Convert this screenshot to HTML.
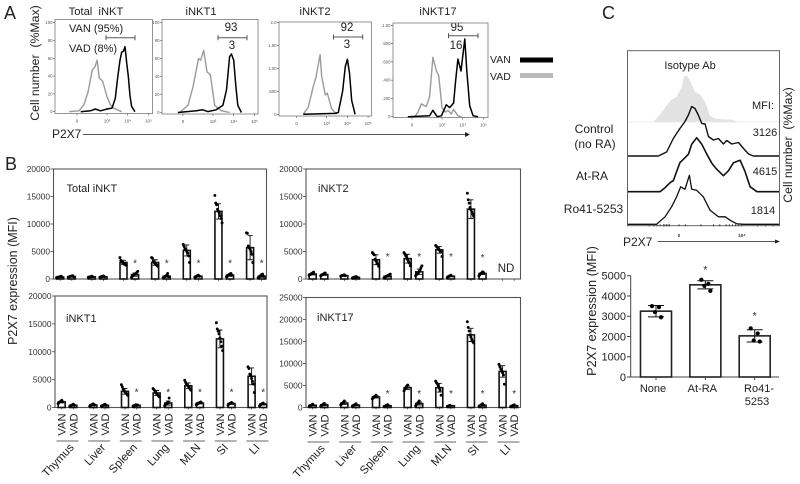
<!DOCTYPE html>
<html lang="en">
<head>
<meta charset="utf-8">
<title>P2X7 expression in iNKT subsets</title>
<style>
html,body{margin:0;padding:0;background:#fff;width:800px;height:484px;overflow:hidden}
svg{display:block;filter:blur(0.3px);font-family:"Liberation Sans",sans-serif}
text{white-space:pre}
</style>
</head>
<body>
<svg id="figure" xmlns="http://www.w3.org/2000/svg" width="800" height="484" viewBox="0 0 800 484">
  <text x="4" y="19" font-size="18" fill="#222">A</text>
  <text x="5" y="170" font-size="18" fill="#222">B</text>
  <text x="602" y="19" font-size="18" fill="#222">C</text>

  <text transform="translate(39 63) rotate(-90)" text-anchor="middle" font-size="12.3" fill="#222">Cell number  (%Max)</text>
  <text x="96" y="15" text-anchor="middle" font-size="11.2" fill="#222">Total  iNKT</text>
  <text x="201" y="15" text-anchor="middle" font-size="11.2" fill="#222">iNKT1</text>
  <text x="315" y="15" text-anchor="middle" font-size="11.2" fill="#222">iNKT2</text>
  <text x="438" y="15" text-anchor="middle" font-size="11.2" fill="#222">iNKT17</text>

  <text x="69" y="32" font-size="11" fill="#222">VAN (95%)</text>
  <text x="69" y="52" font-size="11" fill="#222">VAD (8%)</text>
  <text x="231" y="31" text-anchor="middle" font-size="11.5" fill="#222">93</text>
  <text x="232" y="49" text-anchor="middle" font-size="11.5" fill="#222">3</text>
  <text x="347" y="31" text-anchor="middle" font-size="11.5" fill="#222">92</text>
  <text x="347" y="48" text-anchor="middle" font-size="11.5" fill="#222">3</text>
  <text x="457" y="31" text-anchor="middle" font-size="11.5" fill="#222">95</text>
  <text x="456" y="49" text-anchor="middle" font-size="11.5" fill="#222">16</text>

  <g>
    <text x="490" y="63" font-size="10.5" fill="#222">VAN</text>
    <rect x="520" y="57.5" width="33" height="5" fill="#000"/>
    <text x="490" y="80" font-size="10.5" fill="#222">VAD</text>
    <rect x="520" y="73" width="33" height="5" fill="#bbb"/>
  </g>

  <text x="52" y="138" font-size="12" fill="#222">P2X7</text>
  <line x1="83" y1="134.5" x2="466" y2="134.5" stroke="#555" stroke-width="1"/>
  <polygon points="465,132 470,134.5 465,137" fill="#222"/>

  <text transform="translate(17 281) rotate(-90)" text-anchor="middle" font-size="12.5" fill="#222">P2X7 expression (MFI)</text>

  <text x="690" y="69" text-anchor="middle" font-size="11" fill="#222">Isotype Ab</text>
  <text x="763" y="109" text-anchor="middle" font-size="11" fill="#222">MFI:</text>
  <text x="765" y="136" text-anchor="middle" font-size="11" fill="#222">3126</text>
  <text x="765" y="175" text-anchor="middle" font-size="11" fill="#222">4615</text>
  <text x="763" y="214" text-anchor="middle" font-size="11" fill="#222">1814</text>
  <text x="594" y="133" text-anchor="middle" font-size="12" fill="#222">Control</text>
  <text x="595" y="148" text-anchor="middle" font-size="12" fill="#222">(no RA)</text>
  <text x="592" y="180" text-anchor="middle" font-size="12" fill="#222">At-RA</text>
  <text x="593.5" y="213" text-anchor="middle" font-size="12" fill="#222">Ro41-5253</text>
  <text transform="translate(792 145) rotate(-90)" text-anchor="middle" font-size="12.3" fill="#222">Cell number  (%Max)</text>
  <text x="623" y="246" font-size="12" fill="#222">P2X7</text>
  <line x1="658" y1="241.5" x2="776" y2="241.5" stroke="#555" stroke-width="1"/>
  <polygon points="775,239.5 780,241.5 775,243.5" fill="#222"/>
  <text transform="translate(596 311) rotate(-90)" text-anchor="middle" font-size="12.7" fill="#222">P2X7 expression (MFI)</text>
</svg>

<script>
/* ---------- Panel A: flow histograms, [log10 P2X7, % of max] ---------- */
const totalInktVad = [[1.17,0],[1.65,1],[1.89,8],[2.08,22],[2.29,47],[2.41,50],[2.52,58],[2.63,38],[2.79,34],[3,17],[3.16,8],[3.32,4],[3.71,0]];
const totalInktVan = [[1.73,0],[2.2,1],[2.44,3],[2.68,1],[3,3],[3.24,4],[3.4,15],[3.5,35],[3.63,58],[3.71,67],[3.79,68],[3.87,73],[3.95,55],[4.03,40],[4.11,18],[4.19,6],[4.35,0]];
const inkt1Vad = [[1.39,0],[1.79,8],[2.03,28],[2.3,60],[2.4,58],[2.55,69],[2.71,45],[2.87,42],[3.08,8],[3.4,2],[3.8,0]];
const inkt1Van = [[1.3,0],[2.2,2],[2.5,3],[2.75,1],[3.15,3],[3.48,8],[3.65,25],[3.8,62],[3.89,65],[4,58],[4.1,30],[4.2,8],[4.37,0]];
const inkt2Vad = [[1.87,0],[2.11,8],[2.35,30],[2.48,40],[2.56,50],[2.68,65],[2.76,41],[2.93,21],[3.03,23],[3.24,6],[3.48,0]];
const inkt2Van = [[1.87,0],[3.4,1],[3.56,2],[3.77,25],[3.9,52],[4,60],[4.1,45],[4.21,15],[4.37,0]];
const inkt17Vad = [[1.68,0],[1.84,5],[2,14],[2.24,11],[2.4,22],[2.56,65],[2.73,50],[2.84,45],[3,10],[3.16,5],[3.29,7],[3.45,3],[3.56,8],[3.77,1],[3.94,0]];
const inkt17Van = [[1.35,0],[2.4,1],[2.56,7],[2.77,0],[2.97,1],[3.21,13],[3.37,10],[3.56,15],[3.66,40],[3.77,63],[3.92,50],[4.1,85],[4.2,50],[4.34,12],[4.5,1],[4.74,0]];
const flowYLabelsPercent = ['100','80','60','40','20','0'];
const flowYLabelsInkt2 = ['2.0','1.50','1.00','.500','0'];
const flowYLabelsInkt17 = ['1.00','.800','.600','.400','.200','0'];
const flowXLabels = ['0','10³','10⁴','10⁵'];

/* ---------- Panel B: bars, VAN/VAD alternating per organ ---------- */
const organs = ['Thymus','Liver','Spleen','Lung','MLN','SI','LI'];
const treatments = ['VAN','VAD'];
const yTicks20k = [0,5000,10000,15000,20000];
const yTicks25k = [0,5000,10000,15000,20000,25000];

const totalMeans = [350,450,400,400,3000,800,3000,500,5200,500,12300,700,5700,500];
const totalErrors = [60,80,60,60,400,300,500,150,1000,100,1400,200,2200,200];
const totalStars = [null,null,null,null,null,3000,null,3000,null,3000,null,3000,null,3000];
const totalPoints = [
 [250,300,350,400,450,500,350],[300,350,450,500,550,600,400],
 [300,350,400,450,500,400],[300,400,450,500,550,400],
 [3900,3400,3200,3000,2900,2700,2600,2500],[300,500,700,800,900,1000,1200,1400],
 [3900,3800,3300,3000,2800,2600,2500,2300],[200,300,400,500,700,1000,400],
 [6300,5900,5500,5300,5000,4700,4200,3000],[300,400,500,600,700,500],
 [15200,13800,13500,12700,12300,12000,11500,11000,10200],[400,500,700,800,900,1000,700],
 [8400,8300,6000,5700,5400,5000,4500,3000],[200,300,500,600,800,900,500]
];

const inkt2Means = [900,800,600,300,3500,500,3700,1300,5300,500,12700,1000];
const inkt2Errors = [150,150,100,100,900,150,800,500,600,100,1700,200];
const inkt2Stars = [null,null,null,null,null,4200,null,4200,null,4200,null,4000];
const inkt2Points = [
 [700,800,900,1000,1100,1250],[600,700,800,900,1000,1100],
 [500,600,650,700,750,600],[150,250,300,400,450,350],
 [4800,4600,4400,3600,3300,3000,2700,2300],[200,300,400,500,600,700,800,900],
 [4800,4500,4200,3800,3500,3200,2900,2400],[600,800,1000,1200,1400,1700,2100,2400],
 [6100,5900,5700,5500,5300,5100,4900,4100],[300,400,500,600,700],
 [15600,14400,13800,13000,12600,12200,11800,11400],[600,800,1000,1100,1300,1200]
];

const inkt1Means = [1000,400,450,400,2900,400,2600,800,3900,800,12300,700,5600,600];
const inkt1Errors = [150,100,120,100,500,100,450,350,500,150,1600,150,1500,150];
const inkt1Stars = [null,null,null,null,null,2900,null,2900,null,2900,null,2900,null,2900];
const inkt1Points = [
 [700,900,1000,1100,1300,1000],[200,300,400,500,600,400],
 [250,350,450,550,650,450],[250,350,400,500,600,400],
 [4100,3700,3300,3000,2800,2600,2400,2200],[200,300,400,500,350,450],
 [3400,3200,3000,2700,2500,2300,2100,1900],[300,500,700,800,1000,1700],
 [4900,4500,4200,4000,3800,3600,3300,3100],[500,600,700,800,900,1000],
 [15200,14100,13700,13200,12500,11800,11000,10200],[400,600,700,800,900],
 [7300,7000,6000,5700,5200,4700,4200,2700],[300,500,600,700,800]
];

const inkt17Means = [500,600,1000,550,2400,400,4500,900,4500,400,16500,500,8200,400];
const inkt17Errors = [150,200,300,150,250,150,400,350,1000,100,1500,200,1300,120];
const inkt17Stars = [null,null,null,null,null,3250,null,3250,null,3250,null,3250,null,3250];
const inkt17Points = [
 [250,400,500,600,750],[300,500,600,800,950],
 [600,800,1000,1200,1500],[300,450,550,700,850],
 [2000,2200,2400,2600,2800],[200,300,400,500,650],
 [3800,4200,4500,4800,5100],[400,700,900,1200,1500],
 [6000,5600,5300,4800,4400,3900,2800],[200,300,400,500],
 [19500,18200,17400,16500,16000,15500,15000,14700],[200,400,500,700,850],
 [9800,9300,8800,8300,7900,7400,5300],[200,300,400,500,600]
];

/* ---------- Panel C: stacked histograms, [channel, height] ---------- */
const isotypeCurve = [[-1.64,0],[-1.21,15],[-0.79,33],[-0.47,45],[-0.15,50],[0.17,70],[0.32,92],[0.53,92],[0.74,80],[1.02,60],[1.34,55],[1.66,40],[1.98,12],[2.3,7],[2.83,5],[3.26,5],[3.68,1],[4.3,0]];
const controlCurve = [[-1.32,0],[-0.79,8],[-0.36,35],[0.06,55],[0.38,69],[0.6,82],[0.81,99],[1.02,95],[1.23,82],[1.45,65],[1.66,64],[1.87,39],[2.19,32],[2.51,35],[2.83,24],[3.04,31],[3.36,24],[3.79,27],[4.11,15],[4.43,4],[4.74,0]];
const atRaCurve = [[-3.23,0],[-1.21,0],[-0.89,8],[-0.57,18],[-0.36,22],[-0.15,40],[0.06,58],[0.38,68],[0.6,75],[0.81,95],[1.13,108],[1.45,95],[1.77,75],[2.09,57],[2.4,45],[2.83,32],[3.15,42],[3.47,58],[3.89,63],[4.21,40],[4.53,10],[4.96,0],[6.2,0]];
const ro41Curve = [[-1.43,0],[-0.89,15],[-0.47,35],[-0.15,55],[0.11,75],[0.38,70],[0.53,85],[0.66,98],[0.81,70],[1.13,68],[1.55,55],[1.98,28],[2.51,15],[2.94,15],[3.26,8],[3.68,1],[4.1,0]];
const cXLabels = ['0','10⁴'];

const cCategories = ['None','At-RA','Ro41-'];
const cMeans = [3250,4550,2030];
const cErrors = [280,200,300];
const cPoints = [[3500,3450,3200,2950],[4800,4600,4500,4250],[2400,2150,1800,1750]];
const cStars = [null,5330,3060];
const cYTicks = [0,1000,2000,3000,4000,5000];

/* ---------- drawing ---------- */
const NS = 'http://www.w3.org/2000/svg';
const root = document.getElementById('figure');

function add(tag, attrs, parent, text) {
  const el = document.createElementNS(NS, tag);
  for (const k in attrs) el.setAttribute(k, attrs[k]);
  if (text !== undefined) el.textContent = text;
  (parent || root).appendChild(el);
  return el;
}

function drawFlow(slug, box, yZero, pxPerPct, xAt3, vad, van, yLabels, gate) {
  const g = add('g', {});
  
  
  const xScale = v => xAt3 + (v - 3) * 20.7;
  const yScale = p => yZero - p * pxPerPct;

  const frame = add('rect', {x: box.l, y: box.t, width: box.r - box.l, height: box.b - box.t, fill: 'none', stroke: '#888', 'stroke-width': 0.9}, g);
  
  

  const step = (yZero - yScale(100)) / (yLabels.length - 1);
  yLabels.forEach((lab, i) => {
    const y = yScale(100) + i * step;
    const tick = add('line', {x1: box.l - 2, x2: box.l, y1: y, y2: y, stroke: '#555', 'stroke-width': 0.6}, g);
    
    
    const txt = add('text', {x: box.l - 2.5, y: y + 1.5, 'text-anchor': 'end', 'font-size': 4.3, fill: '#555'}, g, lab);
    
    
  });

  const tickValues = [1.55, 3, 4, 5];
  flowXLabels.forEach((lab, i) => {
    const x = xScale(tickValues[i]);
    const tick = add('line', {x1: x, x2: x, y1: box.b, y2: box.b + 2, stroke: '#555', 'stroke-width': 0.6}, g);
    
    
    const txt = add('text', {x: x, y: box.b + 9, 'text-anchor': 'middle', 'font-size': 4.5, fill: '#555'}, g, lab);
    
    
  });

  const toPts = arr => arr.map(d => xScale(d[0]).toFixed(1) + ',' + yScale(d[1]).toFixed(1)).join(' ');
  const gray = add('polyline', {points: toPts(vad), fill: 'none', stroke: '#9a9a9a', 'stroke-width': 1.4, 'stroke-linejoin': 'round'}, g);
  
  
  const black = add('polyline', {points: toPts(van), fill: 'none', stroke: '#000', 'stroke-width': 1.5, 'stroke-linejoin': 'round'}, g);
  
  

  const gateEl = add('path', {d: 'M' + gate[0] + ' ' + (gate[2] - 2.5) + 'v5M' + gate[0] + ' ' + gate[2] + 'H' + gate[1] + 'M' + gate[1] + ' ' + (gate[2] - 2.5) + 'v5', fill: 'none', stroke: '#555', 'stroke-width': 1}, g);
  
  
}

drawFlow('total-inkt', {l:55,r:152.5,t:19.5,b:113.5}, 111.7, 0.89, 107, totalInktVad, totalInktVan, flowYLabelsPercent, [106,135,37.7]);
drawFlow('inkt1', {l:162,r:258,t:19.5,b:114}, 112.5, 0.9, 213, inkt1Vad, inkt1Van, flowYLabelsPercent, [218,247,37.7]);
drawFlow('inkt2', {l:279,r:371.5,t:22,b:116}, 114.3, 0.917, 326.7, inkt2Vad, inkt2Van, flowYLabelsInkt2, [333.5,362.7,37]);
drawFlow('inkt17', {l:393,r:488,t:23,b:117.5}, 116.7, 0.914, 442, inkt17Vad, inkt17Van, flowYLabelsInkt17, [448.5,478,35.7]);

function jitter(k) {
  return (((k * 37) % 9) - 4) * 0.9;
}

function drawBars(slug, o) {
  const g = add('g', {});
  
  
  const yScale = v => o.bottom - v / o.ymax * (o.bottom - o.top);
  const groupX = i => o.left + 12.5 + i * 31.65;
  const barX = j => groupX(Math.floor(j / 2)) + (j % 2 ? 5.8 : -5.8);

  const frame = add('rect', {x: o.left, y: o.top, width: o.right - o.left, height: o.bottom - o.top, fill: 'none', stroke: '#555', 'stroke-width': 1.1}, g);
  
  

  o.yTicks.forEach(v => {
    const y = yScale(v);
    const tick = add('line', {x1: o.left - 3, x2: o.left, y1: y, y2: y, stroke: '#444', 'stroke-width': 0.8}, g);
    
    
    const txt = add('text', {x: o.left - 3.5, y: y + 3, 'text-anchor': 'end', 'font-size': 8.4, fill: '#333'}, g, String(v));
    
    
  });

  const title = add('text', {x: o.titleX, y: o.titleY, 'font-size': 11, fill: '#222'}, g, o.title);
  
  

  for (let j = 0; j < organs.length * 2; j++) {
    const x = barX(j);
    const tick = add('line', {x1: x, x2: x, y1: o.bottom, y2: o.bottom + 2, stroke: '#444', 'stroke-width': 0.7}, g);
    
    
  }

  o.means.forEach((v, j) => {
    const x = barX(j);
    const bar = add('rect', {x: x - 3.5, y: yScale(v), width: 7, height: yScale(0) - yScale(v), fill: '#fff', stroke: '#111', 'stroke-width': 1.6}, g);
    
    

    const e = o.errors[j];
    const err = add('path', {d: 'M' + x + ' ' + yScale(v - e) + 'V' + yScale(v + e) + 'M' + (x - 2.5) + ' ' + yScale(v + e) + 'h5M' + (x - 2.5) + ' ' + yScale(v - e) + 'h5', fill: 'none', stroke: '#111', 'stroke-width': 0.9}, g);
    
    

    o.points[j].forEach((p, k) => {
      const dot = add('circle', {cx: x + jitter(k), cy: yScale(p), r: 1.45, fill: '#000'}, g);
      
      
    });

    if (o.stars[j] !== null) {
      const star = add('text', {x: x, y: yScale(o.stars[j]) + 4, 'text-anchor': 'middle', 'font-size': 10, fill: '#333'}, g, '*');
      
      
    }
  });

  if (o.catY) {
    for (let j = 0; j < organs.length * 2; j++) {
      const x = barX(j) + 4;
      const lab = add('text', {transform: 'translate(' + x + ' ' + (o.catY - 20.5) + ') rotate(-90)', 'text-anchor': 'middle', 'font-size': 11.2, fill: '#222'}, g, treatments[j % 2]);
      
      
    }
    organs.forEach((name, i) => {
      const cx = groupX(i);
      const rule = add('line', {x1: cx - 11, x2: cx + 11, y1: o.catY - 4, y2: o.catY - 4, stroke: '#666', 'stroke-width': 1}, g);
      
      
      const ax = cx + (name.length < 3 ? 3 : 7);
      const lab = add('text', {transform: 'translate(' + ax + ' ' + (o.catY + 3) + ') rotate(-47)', 'text-anchor': 'end', 'font-size': 11.4, fill: '#222'}, g, name);
      
      
    });
  }
}

drawBars('total-inkt', {left:53.5, right:266.5, top:169, bottom:279, ymax:20000, yTicks:yTicks20k, means:totalMeans, errors:totalErrors, points:totalPoints, stars:totalStars, title:'Total iNKT', titleX:66.5, titleY:192});
drawBars('inkt2', {left:306, right:520.5, top:169, bottom:279, ymax:20000, yTicks:yTicks20k, means:inkt2Means, errors:inkt2Errors, points:inkt2Points, stars:inkt2Stars, title:'iNKT2', titleX:318, titleY:192});
drawBars('inkt1', {left:55, right:267, top:296, bottom:407.5, ymax:20000, yTicks:yTicks20k, means:inkt1Means, errors:inkt1Errors, points:inkt1Points, stars:inkt1Stars, title:'iNKT1', titleX:66, titleY:322, catY:445});
drawBars('inkt17', {left:306, right:520.5, top:297.5, bottom:407.5, ymax:25000, yTicks:yTicks25k, means:inkt17Means, errors:inkt17Errors, points:inkt17Points, stars:inkt17Stars, title:'iNKT17', titleX:317, titleY:321, catY:446});

const ndLabel = add('text', {x: 506, y: 272, 'text-anchor': 'middle', 'font-size': 11.5, fill: '#222'}, root, 'ND');



/* Panel C stacked histograms */
(function () {
  const g = add('g', {});
  
  
  const xScale = v => 679 + v * 15.7;
  const yScale = (base, h) => base - h * 0.5;
  const toPts = (arr, base) => arr.map(d => xScale(d[0]).toFixed(1) + ',' + yScale(base, d[1]).toFixed(1)).join(' ');

  const frame = add('rect', {x: 627.5, y: 50.7, width: 152, height: 175, fill: 'none', stroke: '#555', 'stroke-width': 0.9}, g);
  
  

  const first = isotypeCurve[0][0], last = isotypeCurve[isotypeCurve.length - 1][0];
  const iso = add('polygon', {points: xScale(first) + ',122 ' + toPts(isotypeCurve, 122) + ' ' + xScale(last) + ',122', fill: '#e2e2e2', stroke: 'none'}, g);
  
  
  const isoBase = add('line', {x1: 628, x2: 779, y1: 122, y2: 122, stroke: '#e6e6e6', 'stroke-width': 0.8}, g);
  
  

  const ctrlBase = add('polyline', {points: '628,156 ' + toPts(controlCurve, 156) + ' 779,156', fill: 'none', stroke: '#111', 'stroke-width': 1.4, 'stroke-linejoin': 'round'}, g);
  
  
  const raLine = add('polyline', {points: '628,191.7 ' + toPts(atRaCurve, 191.7) + ' 779,191.7', fill: 'none', stroke: '#111', 'stroke-width': 1.6, 'stroke-linejoin': 'round'}, g);
  
  
  const roLine = add('polyline', {points: '628,224.3 ' + toPts(ro41Curve, 224.3) + ' 779,224.3', fill: 'none', stroke: '#111', 'stroke-width': 1.3, 'stroke-linejoin': 'round'}, g);
  
  

  const minorTicks = [-1.9,-1.6,-1.4,-1.2,-1,-0.9,-0.8,-0.7,-0.6,0,0.4,1.4,2.2,2.6,3,3.2,3.4,3.6,3.8,4,5,5.5,6];
  minorTicks.forEach(v => {
    const t = add('line', {x1: xScale(v), x2: xScale(v), y1: 224, y2: 226.5, stroke: '#333', 'stroke-width': 0.7}, g);
    
    
  });
  [0, 4].forEach((v, i) => {
    const t = add('text', {x: xScale(v), y: 237, 'text-anchor': 'middle', 'font-size': 4.8, 'font-weight': 'bold', fill: '#333'}, g, cXLabels[i]);
    
    
  });
})();

/* Panel C bars */
(function () {
  const g = add('g', {});
  
  
  const yScale = v => 377 - v / 5000 * 101.3;
  const xScale = i => 656 + i * 49.35;

  const axes = add('path', {d: 'M630.7 275.7V377H779', fill: 'none', stroke: '#444', 'stroke-width': 1}, g);
  
  

  cYTicks.forEach(v => {
    const y = yScale(v);
    const t = add('line', {x1: 627, x2: 630.7, y1: y, y2: y, stroke: '#444', 'stroke-width': 1}, g);
    
    
    const lab = add('text', {x: 626, y: y + 4, 'text-anchor': 'end', 'font-size': 11, fill: '#222'}, g, String(v));
    
    
  });

  cMeans.forEach((v, i) => {
    const x = xScale(i);
    const bar = add('rect', {x: x - 15.5, y: yScale(v), width: 31, height: yScale(0) - yScale(v), fill: '#fff', stroke: '#222', 'stroke-width': 1.6}, g);
    
    
    const e = cErrors[i];
    const err = add('path', {d: 'M' + x + ' ' + yScale(v - e) + 'V' + yScale(v + e) + 'M' + (x - 8) + ' ' + yScale(v + e) + 'h16M' + (x - 8) + ' ' + yScale(v - e) + 'h16', fill: 'none', stroke: '#111', 'stroke-width': 1}, g);
    
    
    const offsets = [-4, 3, -1, 5];
    cPoints[i].forEach((p, k) => {
      const dot = add('circle', {cx: x + offsets[k], cy: yScale(p), r: 2.1, fill: '#000'}, g);
      
      
    });
    const t = add('line', {x1: x, x2: x, y1: 377, y2: 380, stroke: '#444', 'stroke-width': 1}, g);
    
    
    const lab = add('text', {x: i === 2 ? 759 : x - 3, y: 392, 'text-anchor': 'middle', 'font-size': 11, fill: '#222'}, g, cCategories[i]);
    
    
    if (cStars[i] !== null) {
      const star = add('text', {x: x, y: yScale(cStars[i]) + 4.5, 'text-anchor': 'middle', 'font-size': 11, fill: '#333'}, g, '*');
      
      
    }
  });

  const lab2 = add('text', {x: 757, y: 405, 'text-anchor': 'middle', 'font-size': 11, fill: '#222'}, g, '5253');
  
  
})();
</script>
</body>
</html>
